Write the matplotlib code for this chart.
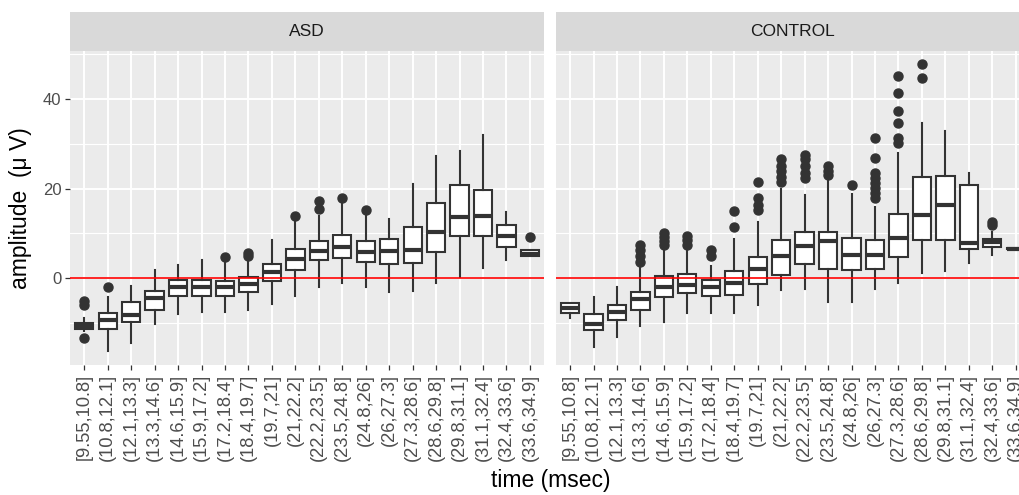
import matplotlib
matplotlib.use("Agg")
import matplotlib.pyplot as plt
from matplotlib.ticker import MultipleLocator

plt.rcParams["font.family"] = ["Liberation Sans", "DejaVu Sans"]

# ====== Data ======
time_bins = ["[9.55,10.8]", "(10.8,12.1]", "(12.1,13.3]", "(13.3,14.6]", "(14.6,15.9]",
             "(15.9,17.2]", "(17.2,18.4]", "(18.4,19.7]", "(19.7,21]", "(21,22.2]",
             "(22.2,23.5]", "(23.5,24.8]", "(24.8,26]", "(26,27.3]", "(27.3,28.6]",
             "(28.6,29.8]", "(29.8,31.1]", "(31.1,32.4]", "(32.4,33.6]", "(33.6,34.9]"]
groups = ["ASD", "CONTROL"]

asd_lo = [-11.9, -16.2, -14.6, -10.2, -8.0, -7.5, -7.5, -7.2, -5.7, -4.1,
          -1.9, -1.1, -1.9, -3.0, -2.8, -1.1, 0.2, 2.2, 4.0, 4.9]
asd_q1 = [-11.3, -11.3, -9.9, -7.2, -4.0, -4.1, -4.0, -3.1, -0.6, 1.9,
          4.0, 4.5, 3.7, 3.2, 3.4, 5.8, 9.3, 9.5, 6.9, 4.9]
asd_med = [-10.7, -9.3, -8.2, -4.5, -1.9, -1.9, -2.0, -1.3, 1.3, 4.3,
           6.1, 6.9, 5.8, 6.0, 6.3, 10.2, 13.7, 13.8, 9.3, 5.4]
asd_q3 = [-10.1, -7.7, -5.4, -2.8, -0.4, -0.4, -0.7, 0.2, 3.2, 6.6,
          8.2, 9.7, 8.2, 8.7, 11.3, 16.8, 20.7, 19.6, 11.9, 6.2]
asd_hi = [-9.0, -4.3, -1.7, 1.9, 2.9, 4.1, 3.4, 3.7, 8.6, 12.7,
          13.8, 16.8, 13.8, 13.3, 20.9, 27.2, 28.4, 31.9, 14.7, 6.2]
asd_out = [[-5.2, -5.9, -13.3], [-1.9], [], [], [], [], [4.6], [5.0, 5.7], [], [13.8],
           [15.4, 17.2], [17.9], [15.3], [], [], [], [], [], [], [9.2]]

ctl_lo = [-9.0, -15.3, -13.2, -10.7, -9.9, -7.7, -7.7, -7.7, -6.0, -2.6,
          -2.5, -5.4, -5.4, -2.5, -1.1, 1.1, 1.5, 3.4, 5.1, 6.4]
ctl_q1 = [-7.7, -11.6, -9.3, -7.1, -4.3, -3.4, -4.0, -3.7, -1.3, 0.7,
          3.1, 2.0, 1.9, 2.0, 4.7, 8.6, 8.6, 6.6, 6.9, 6.4]
ctl_med = [-6.6, -10.3, -7.5, -4.7, -2.0, -1.5, -1.9, -1.0, 2.0, 5.0,
           7.1, 8.3, 5.2, 5.2, 9.0, 14.0, 16.4, 7.8, 8.1, 6.6]
ctl_q3 = [-5.6, -8.0, -6.0, -3.0, 0.5, 0.9, -0.4, 1.6, 4.7, 8.4,
          10.4, 10.2, 9.0, 8.6, 14.4, 22.5, 22.8, 20.7, 8.7, 6.8]
ctl_hi = [-5.6, -4.3, -2.0, 2.2, 6.7, 6.3, 2.6, 8.7, 12.5, 19.8,
          18.5, 21.6, 18.7, 15.9, 28.0, 34.7, 32.8, 23.4, 10.4, 6.8]
ctl_out = [[], [], [], [3.7, 5.0, 6.2, 7.5], [7.5, 8.2, 9.2, 10.1], [7.5, 8.6, 9.5],
           [5.0, 6.3], [11.4, 14.9], [15.3, 16.4, 17.9, 21.4],
           [21.5, 22.5, 24.0, 25.0, 26.5], [22.4, 23.5, 25.0, 26.5, 27.5],
           [23.0, 24.0, 25.0], [20.7],
           [17.9, 19.0, 20.1, 21.3, 22.4, 23.5, 26.9, 31.2],
           [30.2, 31.3, 34.7, 37.3, 41.4, 45.1], [44.6, 47.8], [], [], [11.9, 12.5], []]


def make_stats(lo, q1, med, q3, hi, out):
    return [dict(whislo=a, q1=b, med=c, q3=d, whishi=e, fliers=f)
            for a, b, c, d, e, f in zip(lo, q1, med, q3, hi, out)]


panel_stats = {
    "ASD": make_stats(asd_lo, asd_q1, asd_med, asd_q3, asd_hi, asd_out),
    "CONTROL": make_stats(ctl_lo, ctl_q1, ctl_med, ctl_q3, ctl_hi, ctl_out),
}

# ====== Figure layout (ggplot-like facets) ======
W, H = 1020, 495
fig = plt.figure(figsize=(W / 100, H / 100), dpi=100)

panel_left = [70.2, 556.0]
panel_w = 473.8
panel_top, panel_bottom = 51.0, 365.0
strip_top = 12.0

edge = "#333333"
for left, name in zip(panel_left, groups):
    ax = fig.add_axes([left / W, 1 - panel_bottom / H, panel_w / W, (panel_bottom - panel_top) / H])
    ax.set_facecolor("#EBEBEB")
    for s in ax.spines.values():
        s.set_visible(False)

    ax.bxp(panel_stats[name], positions=range(len(time_bins)), widths=0.78,
           patch_artist=True, showcaps=False,
           boxprops=dict(facecolor="white", edgecolor=edge, linewidth=1.5),
           medianprops=dict(color=edge, linewidth=3.0),
           whiskerprops=dict(color=edge, linewidth=1.5),
           flierprops=dict(marker="o", markerfacecolor=edge, markeredgecolor=edge,
                           markersize=6.5, linestyle="none"))
    ax.axhline(0, color="red", linewidth=1.2, zorder=5)

    ax.set_xlim(-0.6, len(time_bins) - 0.4)
    ax.set_ylim(-19.4, 50.7)
    ax.set_xticks(range(len(time_bins)))
    ax.set_xticklabels(time_bins, rotation=90, va="top", ha="center")
    ax.yaxis.set_major_locator(MultipleLocator(20))
    ax.yaxis.set_minor_locator(MultipleLocator(10))
    ax.set_axisbelow(True)
    ax.grid(True, which="major", color="white", linewidth=1.4)
    ax.grid(True, which="minor", axis="y", color="white", linewidth=0.8)
    ax.tick_params(which="major", length=3.8, width=0.9, color=edge,
                   labelcolor="#4D4D4D", labelsize=12, pad=2.5)
    ax.tick_params(axis="x", labelsize=13.2)
    ax.tick_params(which="minor", length=0)
    if left > 100:
        ax.tick_params(axis="y", left=False, labelleft=False)

    # facet strip
    sax = fig.add_axes([left / W, 1 - panel_top / H, panel_w / W, (panel_top - strip_top) / H])
    sax.set_facecolor("#D9D9D9")
    sax.set_xticks([])
    sax.set_yticks([])
    for s in sax.spines.values():
        s.set_visible(False)
    sax.text(0.5, 0.5, name, ha="center", va="center", fontsize=12.5, color="#1A1A1A",
             transform=sax.transAxes)

fig.text(21 / W, 1 - 208 / H, "amplitude  (\u03bc V)", rotation=90, ha="center", va="center",
         fontsize=16.5)
fig.text(551 / W, 1 - 481 / H, "time (msec)", ha="center", va="center", fontsize=16.5)

fig.savefig("out.png", dpi=100)
